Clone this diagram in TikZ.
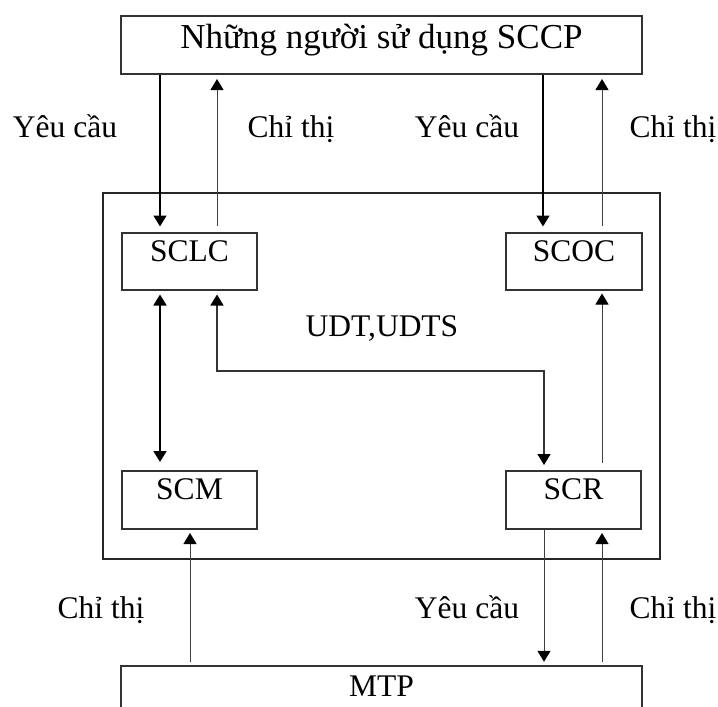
\documentclass[tikz,border=0pt]{standalone}
\usepackage{fontspec}
\setmainfont{Liberation Serif}
\usetikzlibrary{arrows.meta}
\begin{document}
\begin{tikzpicture}[x=1pt,y=-1pt,
  box/.style={draw=black!80,line width=2pt,inner sep=0pt,minimum width=#1,font=\fontsize{31.5}{36}\selectfont},
  lbl/.style={anchor=base,inner sep=0pt,font=\fontsize{31.5}{36}\selectfont},
  tip/.style={-{Triangle[width=13pt,length=11pt,color=black]}},
  btip/.style={{Triangle[width=13pt,length=11pt,color=black]}-{Triangle[width=13pt,length=11pt,color=black]}},
  req/.style={line width=1.6pt,black},
  ind/.style={line width=1pt,black!75},
]
\useasboundingbox (0,0) rectangle (718,707);
% outer SCCP frame
\node[draw=black!85,line width=1.8pt,minimum width=557pt,minimum height=366pt,inner sep=0pt] (outer) at (381.5,376) {};
% boxes
\node[box=521pt,text height=32pt,text depth=26pt,font=\fontsize{35}{40}\selectfont] (top) at (381.5,45) {Những người sử dụng SCCP};
\node[box=135pt,text height=29pt,text depth=28pt] (sclc) at (189.5,261) {SCLC};
\node[box=136pt,text height=29pt,text depth=28pt] (scoc) at (574,261) {SCOC};
\node[box=135pt,text height=28pt,text depth=30pt] (scm) at (189.5,500) {SCM};
\node[box=135pt,text height=28pt,text depth=30pt] (scr) at (573.5,500) {SCR};
% MTP (open at the bottom)
\node[inner sep=0pt,minimum width=521pt,text height=30pt,text depth=26pt,font=\fontsize{31.5}{36}\selectfont] (mtp) at (381.5,694) {MTP};
\draw[draw=black!80,line width=2pt] (mtp.south west) -- (mtp.north west) -- (mtp.north east) -- (mtp.south east);
% x positions of connectors
\coordinate (xa) at (160,0);
\coordinate (xb) at (217,0);
\coordinate (xc) at (543,0);
\coordinate (xd) at (602,0);
\coordinate (xe) at (190,0);
\coordinate (xf) at (544,0);
\coordinate (bend) at (0,371);
% top <-> SCLC / SCOC
\draw[req,tip,shorten >=5pt] (top.south -| xa) -- (sclc.north -| xa);
\draw[ind,tip,shorten <=6pt,shorten >=4pt] (sclc.north -| xb) -- (top.south -| xb);
\draw[req,tip,shorten >=5pt] (top.south -| xc) -- (scoc.north -| xc);
\draw[ind,tip,shorten <=6pt,shorten >=4pt] (scoc.north -| xd) -- (top.south -| xd);
% SCLC <-> SCM
\draw[line width=1.8pt,black,btip,shorten <=4pt,shorten >=8pt] (sclc.south -| xa) -- (scm.north -| xa);
% SCLC <-> SCR (UDT, UDTS)
\draw[line width=1.3pt,black!80,btip,shorten <=4pt,shorten >=5pt] (sclc.south -| xb) -- (bend -| xb) -- (bend -| xf) -- (scr.north -| xf);
\node[lbl] (udt) at (382,336) {UDT,UDTS};
% SCR -> SCOC
\draw[ind,tip,shorten <=7pt,shorten >=3pt] (scr.north -| xd) -- (scoc.south -| xd);
% MTP <-> SCM / SCR
\draw[ind,tip,shorten <=4pt,shorten >=3pt] (mtp.north -| xe) -- (scm.south -| xe);
\draw[ind,tip,shorten >=4pt] (scr.south -| xf) -- (mtp.north -| xf);
\draw[ind,tip,shorten <=4pt,shorten >=3pt] (mtp.north -| xd) -- (scr.south -| xd);
% labels
\node[lbl] (l1) at (65,137) {Yêu cầu};
\node[lbl] (l2) at (291,137) {Chỉ thị};
\node[lbl] (l3) at (467,137) {Yêu cầu};
\node[lbl] (l4) at (673,137) {Chỉ thị};
\node[lbl] (l5) at (101,618) {Chỉ thị};
\node[lbl] (l6) at (467,618) {Yêu cầu};
\node[lbl] (l7) at (673,618) {Chỉ thị};
\end{tikzpicture}
\end{document}
